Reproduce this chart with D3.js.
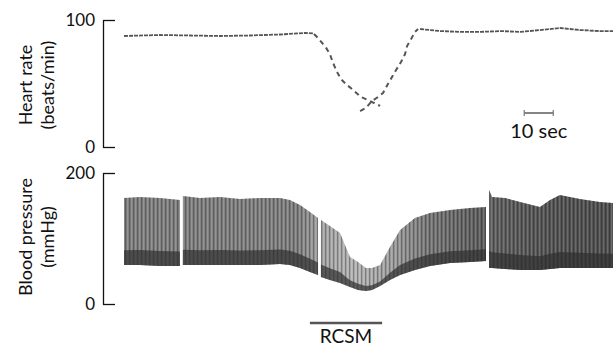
<!DOCTYPE html>
<html><head><meta charset="utf-8">
<script src="https://cdn.jsdelivr.net/npm/d3@7"></script>
<style>
body{margin:0;background:#fff}
svg{display:block}
text{font-family:Lato,"Open Sans",sans-serif;fill:#111}
</style>
</head><body>
<svg id="c" width="613" height="348"></svg>
<script>
// ---- Data ----
// Heart rate (beats/min) vs time (s)
const hrPreTime  = [0, 12.4, 22.8, 33.1, 43.4, 53.8, 62.4, 65.2];
const hrPreValue = [87.4, 88.2, 87.8, 87.4, 87.8, 88.6, 89.8, 89.4];
const hrFallTime  = [65.5, 66.9, 68.3, 69.7, 71.0, 71.7, 73.1, 74.8, 76.9, 79.0, 81.7, 84.1, 86.9, 88.3];
const hrFallValue = [89.0, 85.8, 81.9, 78.0, 73.2, 68.5, 60.6, 53.5, 48.8, 44.9, 39.4, 37.0, 33.9, 32.3];
const hrRiseTime  = [81.4, 83.4, 85.5, 87.6, 89.3, 91.0, 92.4, 93.8, 95.5, 96.9, 97.6, 99.0, 100.3, 101.4];
const hrRiseValue = [28.3, 30.7, 36.2, 39.4, 42.5, 49.6, 55.1, 60.6, 66.9, 73.2, 79.5, 85.0, 90.6, 92.9];
const hrPostTime  = [102.1, 109.0, 115.9, 122.8, 129.7, 136.6, 143.4, 150.3, 157.2, 164.1, 168.6];
const hrPostValue = [92.9, 91.3, 90.6, 90.6, 91.3, 90.6, 92.1, 93.7, 92.1, 91.3, 91.3];

// Blood pressure envelope (mmHg) vs time (s); null = recording gap
const bpTime = [0, 5.5, 12.4, 19.3, null,
  20.3, 26.2, 33.1, 40.0, 46.9, 53.8, 57.2, 60.7, 64.1, 66.9, null,
  67.9, 71.0, 74.5, 76.2, 77.9, 80.7, 83.4, 85.5, 88.3, 91.7, 95.2, 100.3, 105.5, 112.4, 119.3, 124.8, null,
  125.9, 126.9, 131.4, 136.6, 143.4, 146.9, 150.3, 157.2, 164.1, 168.6];
const bpSystolic = [161.8, 163.4, 161.8, 158.8, null,
  164.9, 161.8, 163.4, 160.3, 161.8, 161.8, 158.8, 151.1, 140.5, 131.3, null,
  128.2, 119.1, 108.4, 90.1, 71.8, 64.1, 55.0, 55.0, 59.5, 87.0, 113.0, 131.3, 138.9, 143.5, 146.6, 148.1, null,
  174.0, 163.4, 161.8, 155.7, 148.1, 158.8, 166.4, 160.3, 155.7, 154.2];
const bpDiastolic = [59.5, 59.5, 58.0, 58.0, null,
  59.5, 59.5, 59.5, 59.5, 59.5, 61.1, 59.5, 55.0, 48.9, 44.3, null,
  41.2, 36.6, 32.1, 29.0, 26.0, 21.4, 19.8, 21.4, 27.5, 36.6, 44.3, 51.9, 58.0, 62.6, 64.1, 65.6, null,
  55.0, 55.0, 53.4, 51.9, 51.9, 53.4, 55.0, 55.0, 55.0, 55.0];

// Axis ticks, annotations
const hrTicks = [0, 100];
const bpTicks = [0, 200];
const timeDomain = [0, 168.6];
const scaleBarStart = 138, scaleBarLength = 10, scaleBarLabel = "10 sec";
const rcsmStart = 64.1, rcsmEnd = 89.0, rcsmLabel = "RCSM";

// ---- Drawing ----
const svg = d3.select("#c");
const x = d3.scaleLinear().domain(timeDomain).range([124, 613]);
const yHR = d3.scaleLinear().domain([0, 100]).range([147, 20]);
const yBP = d3.scaleLinear().domain([0, 200]).range([304, 173]);

const defs = svg.append("defs");
const pat = defs.append("pattern").attr("id", "stripes").attr("patternUnits", "userSpaceOnUse")
  .attr("width", 4).attr("height", 6);
pat.append("rect").attr("x", 1).attr("y", 0).attr("width", 1.3).attr("height", 6).attr("fill", "rgba(0,0,0,0.3)");
pat.append("rect").attr("x", 3).attr("y", 0).attr("width", 0.8).attr("height", 6).attr("fill", "rgba(255,255,255,0.15)");

const shade = [[0, "#858585"], [60, "#858585"], [68, "#a8a8a8"], [80, "#b8b8b8"], [92, "#a4a4a4"], [105, "#7c7c7c"], [124, "#626262"], [126, "#666"], [145, "#5a5a5a"], [168.6, "#555"]];
const grad = defs.append("linearGradient").attr("id", "bpg").attr("gradientUnits", "userSpaceOnUse")
  .attr("x1", x(timeDomain[0])).attr("x2", x(timeDomain[1])).attr("y1", 0).attr("y2", 0);
shade.forEach(s => grad.append("stop").attr("offset", (s[0] - timeDomain[0]) / (timeDomain[1] - timeDomain[0])).attr("stop-color", s[1]));

const blur = defs.append("filter").attr("id", "soft");
blur.append("feGaussianBlur").attr("stdDeviation", 0.6);

// Blood pressure
const bpData = bpTime.map((t, i) => ({t, s: bpSystolic[i], d: bpDiastolic[i]}));
const area = d3.area().defined(p => p.t !== null).x(p => x(p.t)).y0(p => yBP(p.d)).y1(p => yBP(p.s));
const gBP = svg.append("g").attr("filter", "url(#soft)");
gBP.append("path").attr("d", area(bpData)).attr("fill", "url(#bpg)");
gBP.append("path").attr("d", area(bpData)).attr("fill", "url(#stripes)");
const band = d3.area().defined(p => p.t !== null).x(p => x(p.t))
  .y0(p => yBP(p.d)).y1(p => yBP(p.d + (p.s - p.d) * 0.22));
gBP.append("path").attr("d", band(bpData)).attr("fill", "#2f2f2f").attr("opacity", 0.7);

// Heart rate
const line = d3.line().x(p => x(p[0])).y(p => yHR(p[1]));
const zip = (a, b) => a.map((v, i) => [v, b[i]]);
const gHR = svg.append("g").attr("filter", "url(#soft)");
[[hrPreTime, hrPreValue], [hrPostTime, hrPostValue]].forEach(([t, v]) =>
  gHR.append("path").attr("d", line(zip(t, v))).attr("fill", "none")
    .attr("stroke", "#555").attr("stroke-width", 1.8).attr("stroke-dasharray", "4,1"));
[[hrFallTime, hrFallValue], [hrRiseTime, hrRiseValue]].forEach(([t, v]) =>
  gHR.append("path").attr("d", line(zip(t, v))).attr("fill", "none")
    .attr("stroke", "#555").attr("stroke-width", 2).attr("stroke-dasharray", "5,4"));

// Axes
function axis(scale, ticks) {
  const g = svg.append("g").attr("transform", "translate(103,0)")
    .call(d3.axisLeft(scale).tickValues(ticks).tickSizeInner(-12).tickSizeOuter(0).tickPadding(8).tickFormat(d3.format("d")));
  g.select(".domain").attr("stroke", "#111").attr("stroke-width", 1.3);
  g.selectAll(".tick line").attr("stroke", "#111").attr("stroke-width", 1.3);
  g.selectAll(".tick text").attr("font-size", 17).attr("fill", "#111").style("font-family", "Lato, 'Open Sans', sans-serif");
}
axis(yHR, hrTicks);
axis(yBP, bpTicks);

// Axis titles
function vtitle(lines, cy) {
  lines.forEach((s, i) => svg.append("text").attr("transform", `translate(${32 + i * 22},${cy}) rotate(-90)`)
    .attr("text-anchor", "middle").attr("font-size", 18).text(s));
}
vtitle(["Heart rate", "(beats/min)"], 85);
vtitle(["Blood pressure", "(mmHg)"], 237);

// 10 sec scale bar
svg.append("line").attr("x1", x(scaleBarStart)).attr("x2", x(scaleBarStart + scaleBarLength))
  .attr("y1", 113).attr("y2", 113).attr("stroke", "#666").attr("stroke-width", 1.6);
[scaleBarStart, scaleBarStart + scaleBarLength].forEach(t =>
  svg.append("line").attr("x1", x(t)).attr("x2", x(t)).attr("y1", 110).attr("y2", 116).attr("stroke", "#777").attr("stroke-width", 1.2));
svg.append("text").attr("x", x(scaleBarStart + scaleBarLength / 2)).attr("y", 138)
  .attr("text-anchor", "middle").attr("font-size", 20).text(scaleBarLabel);

// RCSM bar
svg.append("line").attr("x1", x(rcsmStart)).attr("x2", x(rcsmEnd)).attr("y1", 323).attr("y2", 323)
  .attr("stroke", "#555").attr("stroke-width", 2.6);
svg.append("text").attr("x", x((rcsmStart + rcsmEnd) / 2)).attr("y", 343)
  .attr("text-anchor", "middle").attr("font-size", 19).text(rcsmLabel);
</script>
</body></html>
